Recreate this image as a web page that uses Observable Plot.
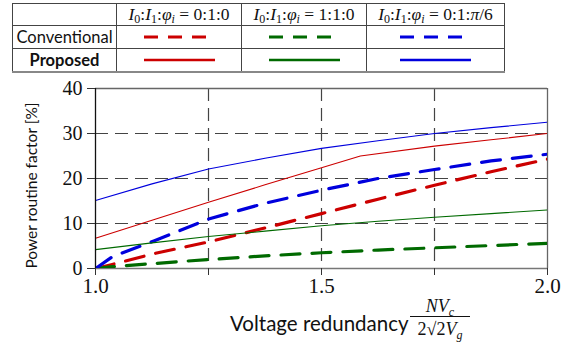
<!DOCTYPE html>
<html><head><meta charset="utf-8">
<script src="https://cdn.jsdelivr.net/npm/d3@7"></script>
<script src="https://cdn.jsdelivr.net/npm/@observablehq/plot@0.6"></script>
<style>
body{margin:0;background:#fff;}
#wrap{position:relative;width:567px;height:349px;overflow:hidden;}
#chart{position:absolute;left:0;top:0;}
table{position:absolute;left:12px;top:3px;border-collapse:collapse;table-layout:fixed;}
td{border:1px solid #444;padding:0;text-align:center;vertical-align:middle;}
td.lab{font-family:Lato,sans-serif;font-size:16.5px;color:#111;}
td.hd{font-family:"Liberation Serif",serif;font-size:17.5px;color:#111;white-space:nowrap;}
td.hd i{font-style:italic;}
sub{font-size:12px;vertical-align:-3px;line-height:0;}
#xlab{position:absolute;left:230px;top:311px;font-family:Lato,sans-serif;font-size:20.5px;color:#111;}
#frac{position:absolute;left:410px;top:298px;width:60px;font-family:"Liberation Serif",serif;font-style:italic;font-size:18px;text-align:center;color:#111;}
#frac sub{font-size:12px;vertical-align:-4px;}
#frac .num{border-bottom:1px solid #111;padding-bottom:1px;line-height:17px;}
#frac .den{line-height:24px;}
</style></head>
<body><div id="wrap">
<div id="chart"></div>
<table>
<colgroup><col style="width:104px"><col style="width:125px"><col style="width:125px"><col style="width:138px"></colgroup>
<tr style="height:21px"><td></td>
<td class="hd" id="h0"></td><td class="hd" id="h1"></td><td class="hd" id="h2"></td></tr>
<tr style="height:23px"><td class="lab">Conventional</td><td id="c0"></td><td id="c1"></td><td id="c2"></td></tr>
<tr style="height:23px;border-bottom:2px solid #888"><td class="lab" style="font-weight:bold">Proposed</td><td id="p0"></td><td id="p1"></td><td id="p2"></td></tr>
</table>
<div id="xlab">Voltage redundancy</div>
<div id="frac"><div class="num">NV<sub>c</sub></div><div class="den"><span style="font-style:normal">2√2</span>V<sub>g</sub></div></div>
</div>
<script>
// Series labels (condition I0:I1:phi_i)
const conditions = ["0:1:0", "1:1:0", "0:1:π/6"];
const colors = ["#cc0000", "#006a00", "#0000dd"];
const methods = ["Conventional", "Proposed"];

// X values (voltage redundancy)
const xsA = [1.0, 1.125, 1.25, 1.375, 1.5, 1.625, 1.75, 1.875, 2.0];
const xsConv = [1.0, 1.037, 1.129, 1.25, 1.375, 1.5, 1.625, 1.75, 1.875, 2.0];
const xsPropRed = [1.0, 1.125, 1.25, 1.375, 1.5, 1.586, 1.75, 1.875, 2.0];

// Power routine factor [%]
const convRed   = [0, 0.9, 3.3, 5.9, 9.0, 12.2, 15.4, 18.5, 21.5, 24.3];
const convBlue  = [0, 2.6, 6.1, 11.0, 14.5, 17.4, 20.0, 22.0, 23.9, 25.4];
const convGreen = [0, 0.4, 1.1, 2.0, 2.8, 3.5, 4.1, 4.6, 5.1, 5.6];
const propRed   = [6.7, 10.7, 14.7, 18.6, 22.4, 25.0, 27.2, 28.6, 30.0];
const propGreen = [4.2, 5.7, 7.1, 8.3, 9.5, 10.5, 11.4, 12.2, 13.0];
const propBlue  = [15.1, 18.8, 22.1, 24.5, 26.7, 28.4, 30.0, 31.3, 32.5];

// Axis ticks
const xTicks = [1.0, 1.25, 1.5, 1.75, 2.0];
const xLabels = {1: "1.0", 1.5: "1.5", 2: "2.0"};
const yTicks = [0, 10, 20, 30, 40];
const yGrid = [10, 20, 30];
const xGrid = [1.25, 1.5, 1.75];

const toRows = (xs, ys) => xs.map((x, i) => ({x, y: ys[i]}));
const series = [
  {rows: toRows(xsConv, convRed), c: 0, dashed: true},
  {rows: toRows(xsConv, convGreen), c: 1, dashed: true},
  {rows: toRows(xsConv, convBlue), c: 2, dashed: true},
  {rows: toRows(xsPropRed, propRed), c: 0, dashed: false},
  {rows: toRows(xsA, propGreen), c: 1, dashed: false},
  {rows: toRows(xsA, propBlue), c: 2, dashed: false}
];

const serif = "Liberation Serif, Times New Roman, serif";
const plot = Plot.plot({
  width: 567, height: 349,
  marginLeft: 95, marginRight: 20, marginTop: 88, marginBottom: 81,
  x: {domain: [1, 2]},
  y: {domain: [0, 40]},
  marks: [
    Plot.ruleX(xGrid, {stroke: "#444", strokeWidth: 1.2, strokeDasharray: "13,7"}),
    Plot.ruleY(yGrid, {stroke: "#444", strokeWidth: 1.2, strokeDasharray: "13,7"}),
    Plot.ruleY([40], {stroke: "#666", strokeWidth: 1.3}),
    Plot.ruleX([2], {stroke: "#666", strokeWidth: 1.3}),
    Plot.ruleY([0], {stroke: "#777", strokeWidth: 1.3}),
    ...series.map(s => Plot.line(s.rows, {
      x: "x", y: "y", stroke: colors[s.c],
      strokeWidth: s.dashed ? 3.2 : 1.1,
      strokeDasharray: s.dashed ? "19,12" : null,
      clip: true
    })),
    Plot.ruleX([1], {stroke: "#111", strokeWidth: 1.3}),
    Plot.axisX({ticks: xTicks, tickSize: 7, tickPadding: 3, tickFormat: d => xLabels[d] ?? "",
      fontSize: 21, fontFamily: serif, stroke: "#333", label: null}),
    Plot.axisY({ticks: yTicks, tickSize: 8, tickPadding: 5, fontSize: 20, fontFamily: serif,
      stroke: "#333", label: null}),
    Plot.text(["Power routine factor [%]"], {frameAnchor: "left", textAnchor: "middle", dx: -63, dy: 7, rotate: -90,
      fontSize: 15.5, fontFamily: "Lato, sans-serif", fill: "#111"})
  ]
});
plot.style.color = "#111";
document.getElementById("chart").appendChild(plot);

// Table header and legend swatches
conditions.forEach((c, i) => {
  document.getElementById("h" + i).innerHTML =
    `<i>I</i><sub>0</sub>:<i>I</i><sub>1</sub>:<i>φ<sub>i</sub></i> = ` +
    c.replace("π", "<i>π</i>");
  const sw = (dashed) => `<svg width="75" height="8" style="display:block;margin:0 auto">
    <line x1="2" x2="73" y1="4" y2="4" stroke="${colors[i]}" stroke-width="${dashed ? 3 : 2.6}"
    ${dashed ? 'stroke-dasharray="14,10"' : ''}/></svg>`;
  document.getElementById("c" + i).innerHTML = sw(true);
  document.getElementById("p" + i).innerHTML = sw(false);
});
</script>
</body></html>
